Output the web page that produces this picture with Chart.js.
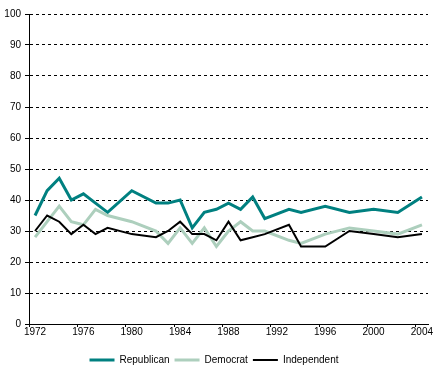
<!DOCTYPE html>
<html>
<head>
<meta charset="utf-8">
<script src="https://cdn.jsdelivr.net/npm/chart.js@4/dist/chart.umd.min.js"></script>
<style>
  html, body { margin: 0; padding: 0; background: #ffffff; }
  #wrap { width: 447px; height: 375px; }
</style>
</head>
<body>
<div id="wrap"><canvas id="c" width="447" height="375"></canvas></div>
<script>
const years = [1972,1973,1974,1975,1976,1977,1978,1980,1982,1983,1984,1985,1986,1987,1988,1989,1990,1991,1993,1994,1996,1998,2000,2002,2004];
const republican = [35,43,47,40,42,39,36,43,39,39,40,31,36,37,39,37,41,34,37,36,38,36,37,36,41];
const democrat = [28,33,38,33,32,37,35,33,30,26,31,26,31,25,30,33,30,30,27,26,29,31,30,29,32];
const independent = [30,35,33,29,32,29,31,29,28,30,33,29,29,27,33,27,28,29,32,25,25,30,29,28,29];
const xTickLabels = ['1972','1976','1980','1984','1988','1992','1996','2000','2004'];
const seriesNames = ['Republican','Democrat','Independent'];

function pts(vals) { return years.map((yr, i) => ({ x: yr, y: vals[i] })); }

const FONT = { family: 'Arial, "Liberation Sans", sans-serif', size: 10 };

new Chart(document.getElementById('c'), {
  type: 'line',
  data: {
    datasets: [
      { label: seriesNames[0], data: pts(republican), borderColor: '#008080', backgroundColor: '#008080', borderWidth: 3, pointRadius: 0, tension: 0, order: 2 },
      { label: seriesNames[1], data: pts(democrat), borderColor: '#ADCFBD', backgroundColor: '#ADCFBD', borderWidth: 3, pointRadius: 0, tension: 0, order: 1 },
      { label: seriesNames[2], data: pts(independent), borderColor: '#000000', backgroundColor: '#000000', borderWidth: 2, pointRadius: 0, tension: 0, order: 0 }
    ]
  },
  options: {
    responsive: false,
    animation: false,
    layout: { padding: { left: 0, right: 19, top: 14, bottom: 0 } },
    plugins: {
      tooltip: { enabled: false },
      legend: {
        position: 'bottom',
        labels: {
          usePointStyle: true,
          pointStyle: 'line',
          pointStyleWidth: 25,
          boxHeight: 10,
          padding: 5,
          color: '#000000',
          font: FONT,
          sort: (a, b) => a.datasetIndex - b.datasetIndex
        }
      }
    },
    scales: {
      x: {
        type: 'linear',
        min: 1971.5,
        max: 2004.5,
        afterBuildTicks: (scale) => {
          scale.ticks = xTickLabels.map(l => ({ value: Number(l) - 0.5 }));
        },
        afterFit: (scale) => { scale.height = 26; },
        ticks: {
          autoSkip: false,
          maxRotation: 0,
          padding: -1,
          labelOffset: 6,
          color: '#000000',
          font: FONT,
          callback: (v) => String(v + 0.5)
        },
        grid: { drawOnChartArea: false, drawTicks: true, tickLength: 3, color: '#000000', lineWidth: 1 },
        border: { display: true, color: '#000000', width: 1 }
      },
      y: {
        min: 0,
        max: 100,
        afterFit: (scale) => { scale.width = 29; },
        ticks: { stepSize: 10, padding: 4, color: '#000000', font: FONT },
        grid: { color: '#000000', lineWidth: 1, drawTicks: true, tickLength: 4, tickColor: '#000000', tickBorderDash: [] },
        border: { display: true, color: '#000000', width: 1, dash: [3, 3] }
      }
    }
  }
});
</script>
</body>
</html>
